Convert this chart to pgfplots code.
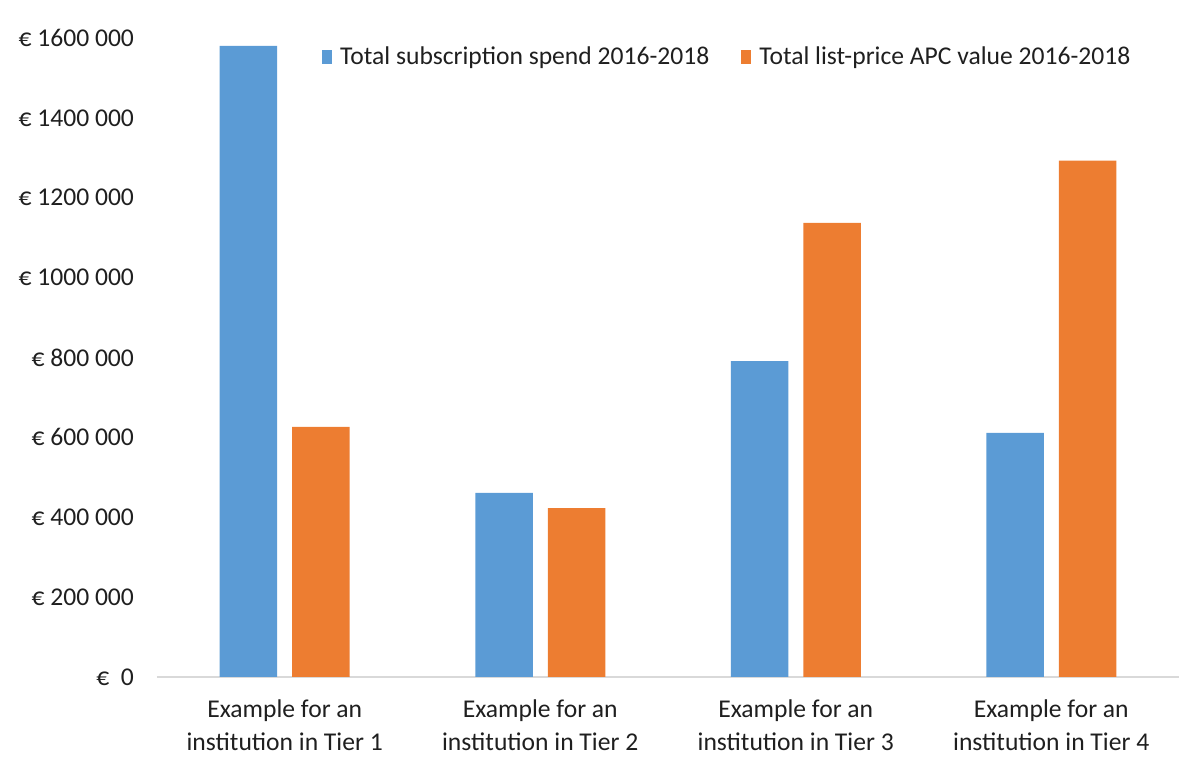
\documentclass[border=0pt]{standalone}
\usepackage{fontspec}
\setmainfont{Carlito}
\usepackage{pgfplots}
\pgfplotsset{compat=1.18}
\definecolor{xlblue}{HTML}{5B9BD5}
\definecolor{xlorange}{HTML}{ED7D31}
\definecolor{xlgrid}{HTML}{D9D9D9}
\begin{document}
\begin{tikzpicture}
\begin{axis}[
    scale only axis,
    width=511pt, height=319.5pt,
    ybar=7.5pt, bar width=28.75pt,
    xmin=-0.5, xmax=3.5,
    ymin=0, ymax=1600000,
    xtick={0,1,2,3},
    xticklabels={{Example for an\\institution in Tier 1},{Example for an\\institution in Tier 2},{Example for an\\institution in Tier 3},{Example for an\\institution in Tier 4}},
    ytick={0,200000,400000,600000,800000,1000000,1200000,1400000,1600000},
    yticklabels={€\ \ 0,€ 200 000,€ 400 000,€ 600 000,€ 800 000,€ 1000 000,€ 1200 000,€ 1400 000,€ 1600 000},
    scaled y ticks=false,
    major tick length=0pt,
    axis line style={draw=none},
    axis x line*=bottom,
    axis y line*=left,
    x axis line style={draw=xlgrid, line width=1pt, -},
    y axis line style={draw=none},
    tick label style={font=\fontsize{12.8}{16.5}\selectfont, text=black!88},
    yticklabel style={anchor=east, xshift=-8pt},
    xticklabel style={align=center, yshift=-8pt},
    legend style={at={(0.559,0.970)}, anchor=center, draw=none, fill=none,
        font=\fontsize{12.8}{15}\selectfont, text=black!88,
        legend columns=2, /tikz/every even column/.append style={column sep=14pt}},
    legend image code/.code={\fill[#1] (0pt,-3.5pt) rectangle (5pt,3.5pt); \path (7pt,0pt);},
]
\addplot[fill=xlblue, draw=none] coordinates {(0,1580000) (1,461000) (2,791000) (3,611000)};
\addplot[fill=xlorange, draw=none] coordinates {(0,626000) (1,423000) (2,1137000) (3,1293000)};
\legend{Total subscription spend 2016-2018, Total list-price APC value 2016-2018}
\end{axis}
\path[use as bounding box] (-78.5pt,-46.5pt) rectangle (521.5pt,338.5pt);
\end{tikzpicture}
\end{document}
